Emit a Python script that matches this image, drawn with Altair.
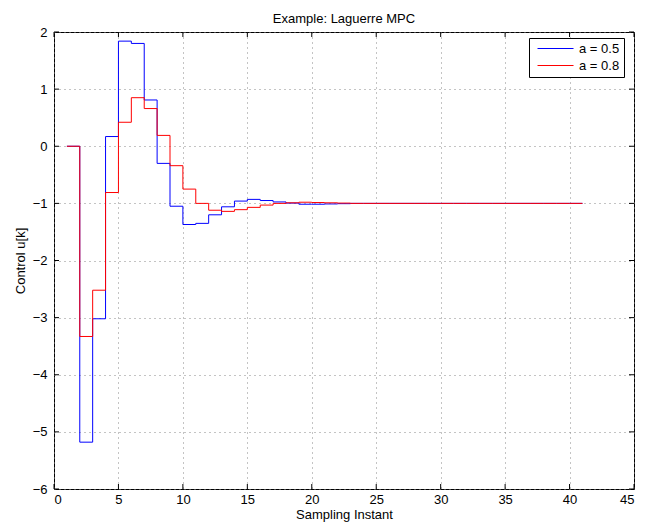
import altair as alt
import pandas as pd

k = list(range(1, 42))
blue = [0, -5.18, -3.02, 0.17, 1.84, 1.80, 0.81, -0.30, -1.05, -1.37,
        -1.35, -1.20, -1.06, -0.96, -0.93, -0.95, -0.975, -0.995, -1.015, -1.015,
        -1.01, -1.005] + [-1.0] * 19
red = [0, -3.33, -2.52, -0.81, 0.42, 0.85, 0.66, 0.19, -0.34, -0.75,
       -1.0, -1.12, -1.14, -1.11, -1.07, -1.03, -1.0, -0.99, -0.98, -0.985,
       -0.99, -0.995] + [-1.0] * 19
series_names = ["a = 0.5", "a = 0.8"]
colors = ["#0000ff", "#ff0000"]
x_ticks = list(range(0, 46, 5))
y_ticks = list(range(-6, 3))

df = pd.DataFrame({
    "k": k + k,
    "u": blue + red,
    "s": [series_names[0]] * len(k) + [series_names[1]] * len(k),
})
xt = pd.DataFrame({"k": x_ticks})
yt = pd.DataFrame({"u": y_ticks})

W, H = 580, 457
FONT = "Liberation Sans"
xs = alt.Scale(domain=[0, 45], nice=False, zero=False)
ys = alt.Scale(domain=[-6, 2], nice=False, zero=False)
xaxis = alt.Axis(values=x_ticks, title="Sampling Instant", grid=True, tickSize=0,
                 labelPadding=4, titlePadding=2)
yaxis = alt.Axis(values=y_ticks, title="Control u[k]", grid=True, tickSize=0,
                 labelPadding=7, titlePadding=5)

lines = alt.Chart(df).mark_line(interpolate="step-after", strokeWidth=1).encode(
    x=alt.X("k:Q", scale=xs, axis=xaxis),
    y=alt.Y("u:Q", scale=ys, axis=yaxis),
    color=alt.Color("s:N", scale=alt.Scale(domain=series_names, range=colors),
                    legend=alt.Legend(title=None, orient="none", legendX=475, legendY=6,
                                      symbolType="M-0.33,0H5.67", symbolSize=144,
                                      symbolStrokeWidth=1, strokeColor="black",
                                      fillColor="white", padding=4, rowPadding=3,
                                      labelFontSize=13, labelFont=FONT,
                                      labelOffset=33,
                                      labelExpr="datum.label + '\u00a0\u00a0'")),
)

xb = alt.Chart(xt).mark_rule(color="black").encode(
    x=alt.X("k:Q", scale=xs, axis=xaxis), y=alt.value(H), y2=alt.value(H - 5))
xtop = alt.Chart(xt).mark_rule(color="black").encode(
    x=alt.X("k:Q", scale=xs, axis=xaxis), y=alt.value(0), y2=alt.value(5))
yl = alt.Chart(yt).mark_rule(color="black").encode(
    y=alt.Y("u:Q", scale=ys, axis=yaxis), x=alt.value(0), x2=alt.value(5))
yr = alt.Chart(yt).mark_rule(color="black").encode(
    y=alt.Y("u:Q", scale=ys, axis=yaxis), x=alt.value(W), x2=alt.value(W - 5))

chart = alt.layer(lines, xb, xtop, yl, yr).properties(
    width=W, height=H,
    title=alt.TitleParams("Example: Laguerre MPC", fontSize=13, fontWeight="normal",
                          font=FONT, offset=0, frame="group"),
    autosize=alt.AutoSizeParams(type="none"),
    padding={"left": 46, "top": 24, "right": 8, "bottom": 36},
).configure_view(stroke="black", strokeWidth=1).configure_axis(
    labelFont=FONT, titleFont=FONT, labelFontSize=13, titleFontSize=13,
    titleFontWeight="normal", labelColor="black", titleColor="black",
    gridColor="#888", gridDash=[1, 4], gridOpacity=1, domain=False,
)

chart.save("out.html", embed_options={"renderer": "svg", "actions": False})
